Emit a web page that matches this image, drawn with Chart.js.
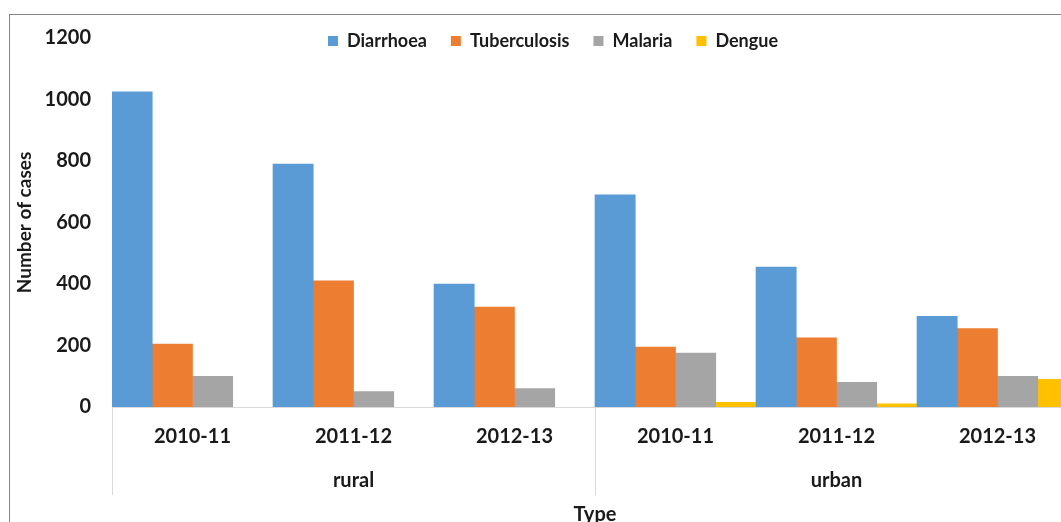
<!DOCTYPE html>
<html>
<head>
<meta charset="utf-8">
<script src="https://cdn.jsdelivr.net/npm/chart.js@4/dist/chart.umd.min.js"></script>
<style>
  html, body { margin: 0; padding: 0; background: #fff; }
  body { width: 1061px; height: 522px; overflow: hidden; position: relative; }
  #frame { position: absolute; left: 9px; top: 14px; width: 1100px; height: 600px; border: 1px solid #858585; }
  #casesChart { position: absolute; left: 0; top: 0; }
</style>
</head>
<body>
<div id="frame"></div>
<canvas id="casesChart" width="1090" height="540"></canvas>
<script>
// Data
const years = ['2010-11', '2011-12', '2012-13', '2010-11', '2011-12', '2012-13'];
const groups = ['rural', 'urban'];
const groupOf = [0, 0, 0, 1, 1, 1];

const diarrhoea = [1025, 790, 400, 690, 455, 295];
const tuberculosis = [205, 410, 325, 195, 225, 255];
const malaria = [100, 50, 60, 175, 80, 100];
const dengue = [null, null, null, 15, 10, 90]; // no dengue bars for rural

const yTicks = [0, 200, 400, 600, 800, 1000, 1200];

const FONT = 'Lato, "Open Sans", sans-serif';
const lineGray = '#d9d9d9';

// legend sits on the same line as the top tick, so keep its layout box short
// and widen it again afterwards so the text isn't clipped
const legendFit = {
  id: 'legendFit',
  beforeLayout(chart) {
    const lg = chart.legend;
    if (lg && !lg._shortFit) {
      const orig = lg.fit;
      lg.fit = function () {
        orig.call(this);
        this.height = 30;
      };
      lg._shortFit = true;
    }
  },
  afterLayout(chart) {
    const lg = chart.legend;
    if (lg) {
      lg.height = 60;
      lg.bottom = lg.top + 60;
    }
  }
};

// second row of x labels (rural / urban) and the separators
const groupLabels = {
  id: 'groupLabels',
  afterDraw(chart) {
    const ctx = chart.ctx;
    const x = chart.scales.x;
    const half = (x.getPixelForValue(1) - x.getPixelForValue(0)) / 2;
    const y0 = chart.chartArea.bottom;
    ctx.save();
    ctx.strokeStyle = lineGray;
    ctx.lineWidth = 1;
    ctx.font = 'bold 20px ' + FONT;
    ctx.fillStyle = '#1a1a1a';
    ctx.textAlign = 'center';
    ctx.textBaseline = 'middle';
    groups.forEach((g, gi) => {
      const idx = groupOf.map((v, i) => v === gi ? i : -1).filter(i => i >= 0);
      const left = x.getPixelForValue(idx[0]) - half;
      const right = x.getPixelForValue(idx[idx.length - 1]) + half;
      [left, right].forEach(px => {
        ctx.beginPath();
        ctx.moveTo(Math.round(px) + 0.5, y0);
        ctx.lineTo(Math.round(px) + 0.5, y0 + 88);
        ctx.stroke();
      });
      ctx.fillText(g, (left + right) / 2, y0 + 74);
    });
    ctx.restore();
  }
};

const ctx = document.getElementById('casesChart').getContext('2d');

new Chart(ctx, {
  type: 'bar',
  data: {
    labels: years,
    datasets: [
      { label: 'Diarrhoea', data: diarrhoea, backgroundColor: '#5B9BD5', borderColor: '#5B9BD5', borderWidth: 0 },
      { label: 'Tuberculosis', data: tuberculosis, backgroundColor: '#ED7D31', borderColor: '#ED7D31', borderWidth: 0 },
      { label: 'Malaria', data: malaria, backgroundColor: '#A5A5A5', borderColor: '#A5A5A5', borderWidth: 0 },
      { label: 'Dengue', data: dengue, backgroundColor: '#FFC000', borderColor: '#FFC000', borderWidth: 0 },
    ],
  },
  options: {
    responsive: false,
    animation: false,
    categoryPercentage: 1,
    barPercentage: 1,
    layout: { padding: { left: 28, right: 12, top: 8, bottom: 13 } },
    plugins: {
      tooltip: { enabled: false },
      legend: {
        position: 'top',
        labels: {
          boxWidth: 10,
          boxHeight: 10,
          padding: 24,
          color: '#1a1a1a',
          font: { family: FONT, size: 18, weight: 'bold' },
        },
      },
    },
    scales: {
      x: {
        z: 1,
        grid: { display: false, drawTicks: false },
        border: { display: true, color: lineGray, width: 1 },
        ticks: {
          padding: 18,
          color: '#1a1a1a',
          font: { family: FONT, size: 20, weight: 'bold' },
          maxRotation: 0,
        },
        title: {
          display: true,
          text: 'Type',
          color: '#1a1a1a',
          padding: { top: 0, bottom: 0 },
          font: { family: FONT, size: 20, weight: 'bold' },
        },
        afterFit(scale) { scale.height = 120; },
      },
      y: {
        min: 0,
        max: 1200,
        afterBuildTicks(scale) { scale.ticks = yTicks.map(v => ({ value: v })); },
        grid: { display: false, drawTicks: false },
        border: { display: false },
        ticks: {
          padding: 21,
          color: '#1a1a1a',
          font: { family: FONT, size: 20, weight: 'bold' },
          callback: v => String(v),
        },
        title: {
          display: true,
          text: 'Number of cases',
          color: '#1a1a1a',
          padding: { top: -15, bottom: 0 },
          font: { family: FONT, size: 19, weight: 'bold' },
        },
        afterFit(scale) { scale.width = 84; },
      },
    },
  },
  plugins: [legendFit, groupLabels],
});
</script>
</body>
</html>
